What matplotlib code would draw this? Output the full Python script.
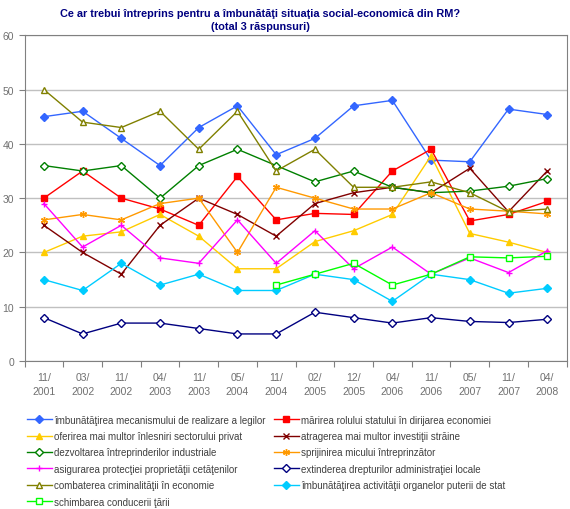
import numpy as np
import matplotlib
matplotlib.use("Agg")
import matplotlib.pyplot as plt

# survey dates (x axis categories)
periods = ["11/\n2001", "03/\n2002", "11/\n2002", "04/\n2003", "11/\n2003", "05/\n2004",
           "11/\n2004", "02/\n2005", "12/\n2005", "04/\n2006", "11/\n2006", "05/\n2007",
           "11/\n2007", "04/\n2008"]

nan = np.nan
legi        = [45, 46, 41, 36, 43, 47, 38, 41, 47, 48, 37, 36.7, 46.4, 45.4]
rol_stat    = [30, 35, 30, 28, 25, 34, 26, 27.2, 27, 35, 39, 25.8, 27, 29.4]
inlesniri   = [20, 23, 23.8, 27, 23, 17, 17, 22, 24, 27, 37.8, 23.5, 21.9, 20]
investitii  = [25, 20, 16, 25, 30, 27, 23, 29, 31, 32, 31, 35.5, 27.5, 35]
industrie   = [36, 35, 36, 30, 36, 39, 36, 33, 35, 32, 31, 31.3, 32.2, 33.6]
micul_intr  = [26, 27, 26, 29, 30, 20, 32, 30, 28, 28, 31, 28, 27.6, 27.1]
proprietate = [29, 21, 25, 19, 18, 26, 18, 24, 17, 21, 16, 19, 16.3, 20.3]
admin_loc   = [8, 5, 7, 7, 6, 5, 5, 9, 8, 7, 8, 7.3, 7.1, 7.7]
criminal    = [50, 44, 43, 46, 39, 46, 35, 39, 32, 32, 33, 31, 27.5, 28]
organe      = [15, 13, 18, 14, 16, 13, 13, 16, 15, 11, 16, 15, 12.5, 13.4]
conducere   = [nan, nan, nan, nan, nan, nan, 14, 16, 18, 14, 16, 19.2, 19, 19.3]

# name, values, colour, marker, marker face, marker size
series = [
    ("îmbunătăţirea mecanismului de realizare a legilor", legi, "#3366ff", "D", "#3366ff", 4),
    ("mărirea rolului statului în dirijarea economiei", rol_stat, "#ff0000", "s", "#ff0000", 4.3),
    ("oferirea mai multor înlesniri sectorului privat", inlesniri, "#ffcc00", "^", "#ffcc00", 5),
    ("atragerea mai multor investiţii străine", investitii, "#800000", "x", "#800000", 4),
    ("dezvoltarea întreprinderilor industriale", industrie, "#008000", "D", "white", 4),
    ("sprijinirea micului întreprinzător", micul_intr, "#ff9900", (6, 2, 0), "#ff9900", 5),
    ("asigurarea protecţiei proprietăţii cetăţenilor", proprietate, "#ff00ff", "+", "#ff00ff", 5),
    ("extinderea drepturilor administraţiei locale", admin_loc, "#000080", "D", "white", 4),
    ("combaterea criminalităţii în economie", criminal, "#808000", "^", "white", 5),
    ("îmbunătăţirea activităţii organelor puterii de stat", organe, "#00ccff", "D", "#00ccff", 4),
    ("schimbarea conducerii ţării", conducere, "#00ff00", "s", "white", 4.3),
]

plt.rcParams["font.family"] = ["Liberation Sans", "DejaVu Sans"]

fig = plt.figure(figsize=(5.7, 5.1), dpi=100)
ax = fig.add_axes([0.043, 0.29, 0.951, 0.639])

x = np.arange(len(periods))
handles = []
for name, vals, col, mk, face, ms in series:
    ln, = ax.plot(x, vals, color=col, lw=1, marker=mk, ms=ms,
                  mfc=face, mec=col, mew=1, label=name)
    handles.append(ln)

ax.set_xlim(-0.5, len(periods) - 0.5)
ax.set_ylim(0, 60)
ax.set_yticks(range(0, 61, 10))
ax.yaxis.grid(True, color="#c0c0c0", lw=1)
ax.set_axisbelow(True)

ax.set_xticks(np.arange(-0.5, len(periods), 1.0))
ax.set_xticklabels([])
ax.set_xticks(x, minor=True)
ax.set_xticklabels(periods, minor=True, color="#707070", fontsize=7.5, linespacing=1.5)
ax.tick_params(axis="x", which="minor", length=0, pad=8)
ax.tick_params(axis="x", which="major", length=4, color="#808080", direction="out")
ax.tick_params(axis="y", length=4, color="#808080", labelcolor="#707070", labelsize=7.5)
for s in ax.spines.values():
    s.set_color("#808080")

fig.text(0.457, 0.982, "Ce ar trebui întreprins pentru a îmbunătăţi situaţia social-economică din RM?\n(total 3 răspunsuri)",
         ha="center", va="top", fontsize=7.8, fontweight="bold", color="#000080", linespacing=1.3)

# legend in Excel row order -> matplotlib fills columns first
order = [0, 2, 4, 6, 8, 10, 1, 3, 5, 7, 9]
leg = fig.legend([handles[i] for i in order], [series[i][0] for i in order],
                 ncol=2, loc="upper left", bbox_to_anchor=(0.047, 0.185),
                 frameon=False, fontsize=7.0, handlelength=2.6, handletextpad=0.25,
                 columnspacing=0.8, labelspacing=0.66, borderaxespad=0, borderpad=0)
for t in leg.get_texts():
    t.set_color("#404040")

fig.savefig("out.png", dpi=100)
